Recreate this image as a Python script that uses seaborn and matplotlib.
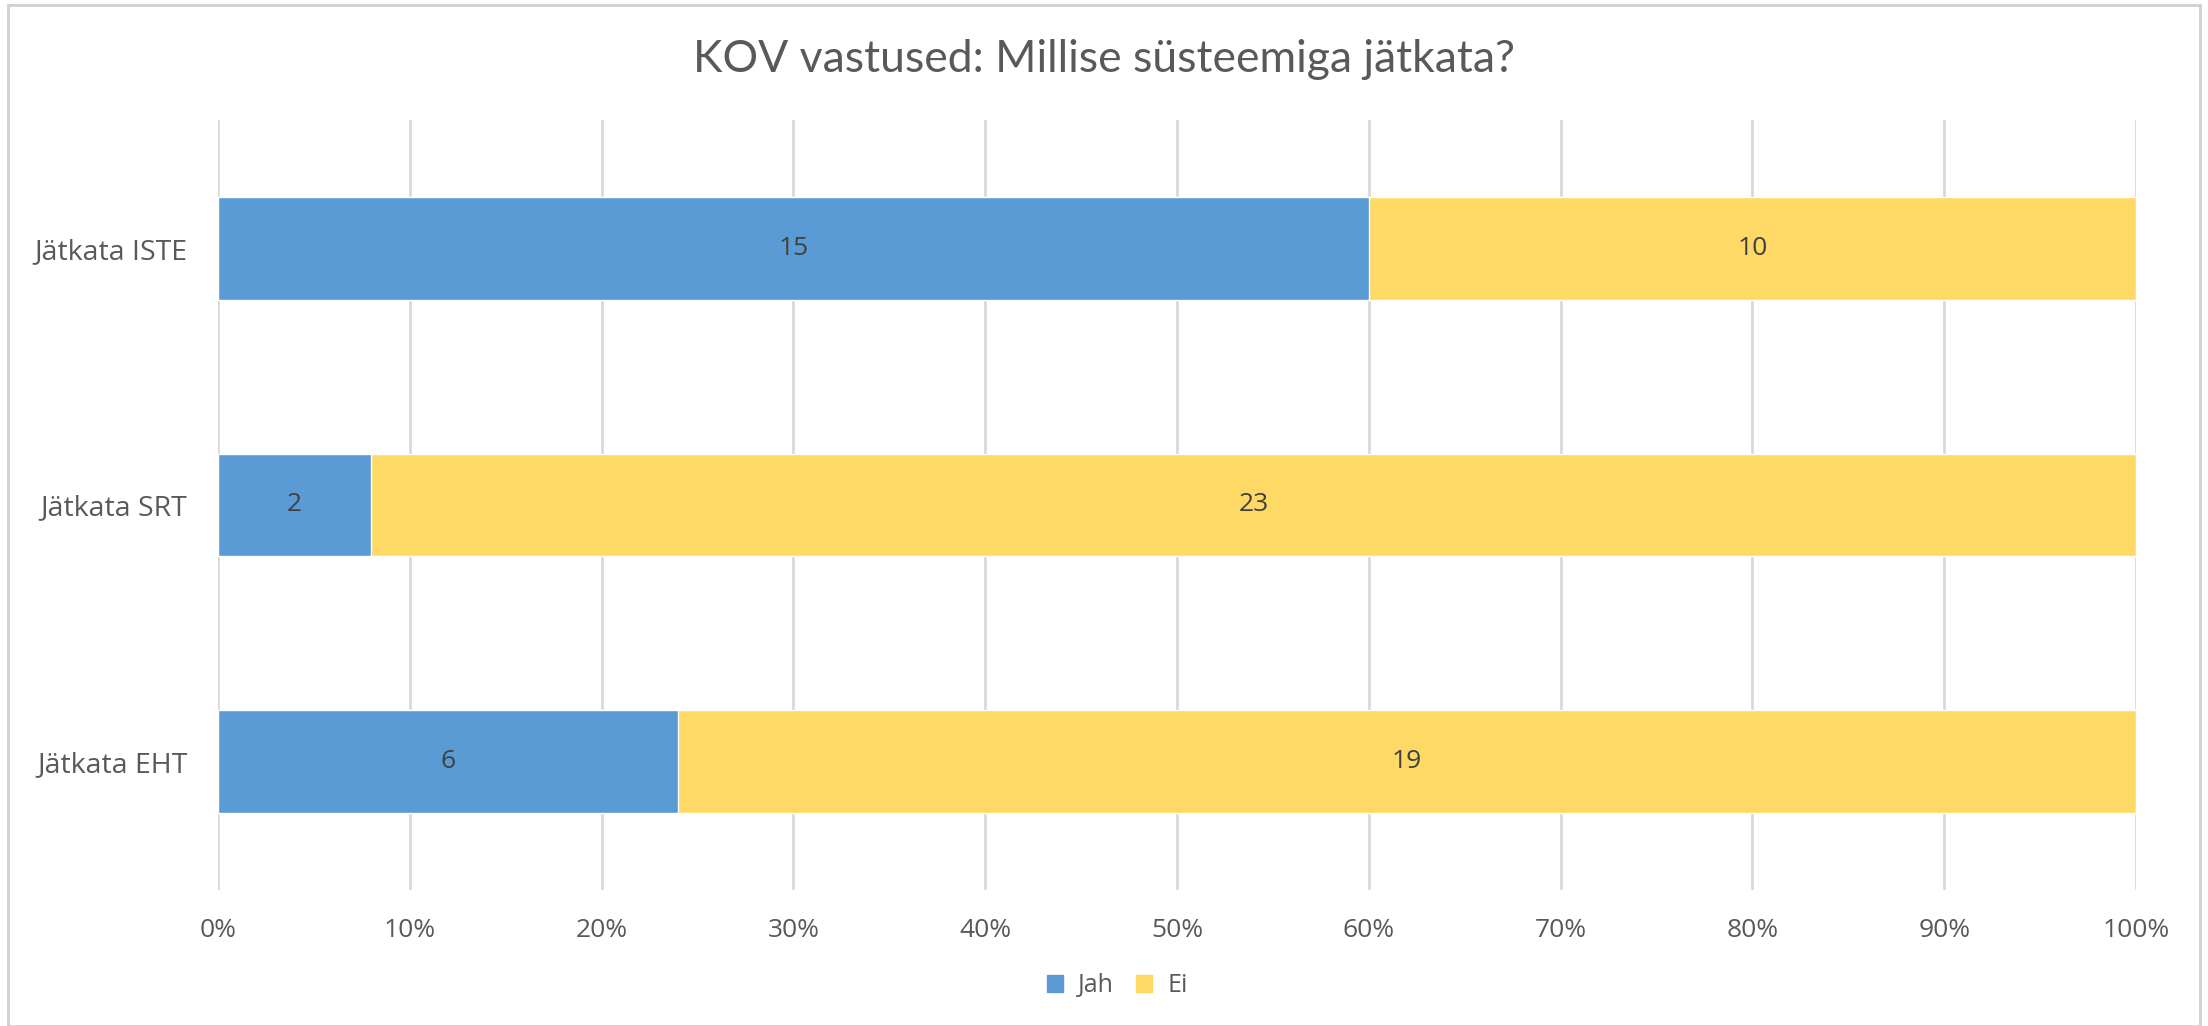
import pandas as pd
import numpy as np
import matplotlib
matplotlib.use("Agg")
import matplotlib.pyplot as plt
import seaborn as sns
from matplotlib.patches import Rectangle, Patch

# Data
categories = ["Jätkata ISTE", "Jätkata SRT", "Jätkata EHT"]
jah_counts = [15, 2, 6]
ei_counts = [10, 23, 19]
series_names = ["Jah", "Ei"]
x_ticks = [0, 10, 20, 30, 40, 50, 60, 70, 80, 90, 100]
title = "KOV vastused: Millise süsteemiga jätkata?"

BLUE = "#5B9BD5"
YELLOW = "#FFD966"
GRID = "#D9D9D9"
TEXT = "#595959"


def main():
    sns.set_theme(style="white")
    plt.rcParams["font.family"] = ["Open Sans", "DejaVu Sans"]

    df = pd.DataFrame({"category": categories, "Jah": jah_counts, "Ei": ei_counts})
    df["total"] = df["Jah"] + df["Ei"]
    df["jah_pct"] = df["Jah"] / df["total"] * 100
    df["ei_pct"] = df["Ei"] / df["total"] * 100
    df["cum_pct"] = df["jah_pct"] + df["ei_pct"]

    fig = plt.figure(figsize=(22.08, 10.26), dpi=100)
    ax = fig.add_axes([0.0987, 0.1326, 0.8687, 0.7504])

    # stacked bars: full (Ei) bar first, Jah drawn on top
    sns.barplot(data=df, x="cum_pct", y="category", color=YELLOW, orient="h",
                width=0.4, ax=ax, saturation=1, zorder=3)
    sns.barplot(data=df, x="jah_pct", y="category", color=BLUE, orient="h",
                width=0.4, ax=ax, saturation=1, zorder=4)

    for i, row in df.iterrows():
        ax.text(row["jah_pct"] / 2, i, str(row["Jah"]), ha="center", va="center",
                fontsize=19, color="#404040", zorder=5)
        ax.text(row["jah_pct"] + row["ei_pct"] / 2, i, str(row["Ei"]), ha="center",
                va="center", fontsize=19, color="#404040", zorder=5)

    ax.set_xlim(0, 100)
    ax.set_ylim(2.5, -0.5)
    ax.set_xticks(x_ticks)
    ax.set_xticklabels([f"{t}%" for t in x_ticks])
    ax.xaxis.grid(True, color=GRID, linewidth=2, zorder=0)
    ax.yaxis.grid(False)
    ax.set_axisbelow(True)
    for s in ax.spines.values():
        s.set_visible(False)
    ax.tick_params(axis="both", length=0, labelsize=19, colors=TEXT)
    ax.tick_params(axis="y", labelsize=20.5)
    ax.tick_params(axis="x", pad=20)
    ax.tick_params(axis="y", pad=22)
    ax.set_xlabel("")
    ax.set_ylabel("")

    fig.text(0.5, 0.942, title, ha="center", va="center", fontsize=32,
             color=TEXT, family=["Lato", "DejaVu Sans"])

    handles = [Patch(color=BLUE, label=series_names[0]),
               Patch(color=YELLOW, label=series_names[1])]
    fig.legend(handles=handles, loc="center", bbox_to_anchor=(0.506, 0.039), ncol=2,
               frameon=False, fontsize=18, labelcolor=TEXT, handlelength=0.65,
               handleheight=0.65, handletextpad=0.6, columnspacing=0.9)

    # light frame around the chart area
    fig.patches.append(Rectangle((8 / 2208, 0), 2192 / 2208, 1 - 5 / 1026,
                                 transform=fig.transFigure, fill=False,
                                 edgecolor="#D0D0D0", linewidth=2))

    fig.savefig("out.png", dpi=100, facecolor="white")
    plt.close(fig)


if __name__ == "__main__":
    main()
